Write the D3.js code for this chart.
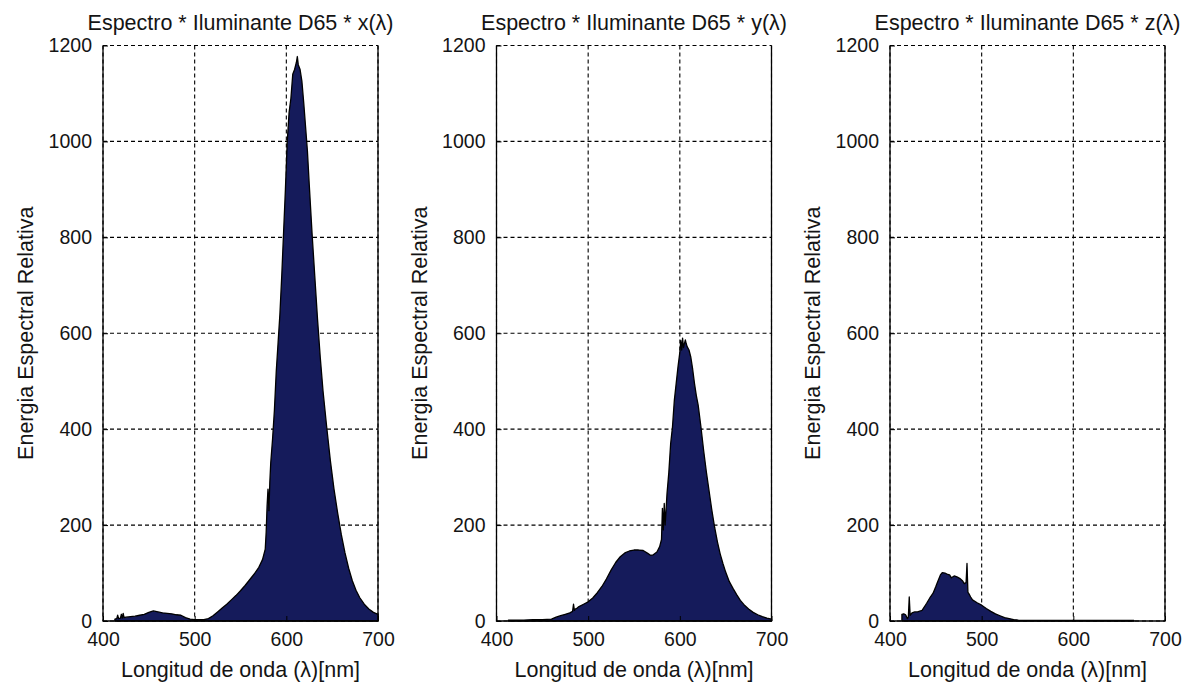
<!DOCTYPE html>
<html>
<head>
<meta charset="utf-8">
<script src="https://cdn.jsdelivr.net/npm/d3@7"></script>
<style>
  html, body { margin: 0; padding: 0; background: #fff; }
  svg text { font-family: "Liberation Sans", Arial, sans-serif; fill: #141414; }
</style>
</head>
<body>
<svg id="chart" width="1194" height="685"></svg>
<script>
// Spectrum * D65 * colour-matching function, one panel per tristimulus channel
const panelTitles = [
  "Espectro * Iluminante D65 * x(\u03bb)",
  "Espectro * Iluminante D65 * y(\u03bb)",
  "Espectro * Iluminante D65 * z(\u03bb)"
];
const xAxisLabel = "Longitud de onda (\u03bb)[nm]";
const yAxisLabel = "Energia Espectral Relativa";
const xTicks = [400, 500, 600, 700];
const yTicks = [0, 200, 400, 600, 800, 1000, 1200];

// x(λ) channel
const lambdaX = [413,415,416,417,419,420,421,422,423,425,430,435,440,445,450,455,460,465,470,475,480,485,490,495,500,505,510,515,520,525,530,535,540,545,550,555,560,565,570,574,577,578,579,580,581,582,583,585,587,589,591,593,595,597,599,601,603,605,607,609,611,612,613,615,617,619,621,623,625,628,631,634,637,640,644,648,652,656,660,664,668,672,676,680,685,690,695,700];
const energyX = [4,5,12,5,6,14,6,16,7,8,9,10,12,14,18,21,19,17,16,15,13,12,7,4,3,3,3,5,11,19,27,35,44,53,63,74,86,98,112,128,150,185,240,275,230,290,330,380,440,520,580,640,720,810,900,1000,1060,1090,1140,1150,1165,1177,1160,1150,1125,1080,1030,980,910,810,720,630,550,480,405,335,275,225,180,142,110,84,64,49,35,25,18,14];

// y(λ) channel
const lambdaY = [413,420,430,440,450,460,465,470,475,480,483,484,485,486,488,490,495,500,505,510,515,520,525,530,535,540,545,550,555,560,565,568,571,575,578,580,581,582,583,584,586,588,590,592,594,596,598,600,601,602,603,604,606,607,608,610,612,614,616,618,620,623,626,629,632,635,638,641,644,647,650,654,658,662,666,670,675,680,685,690,695,700];
const energyY = [2,2,2,3,3,4,8,11,14,17,20,35,22,25,27,30,35,40,48,59,72,88,106,122,134,142,146,148,148,147,141,137,138,144,155,170,235,190,245,200,265,310,370,405,460,495,530,560,585,565,590,570,586,578,572,565,550,525,495,470,450,405,355,310,270,230,195,165,140,120,102,82,68,55,43,34,25,18,13,9,6,4];

// z(λ) channel
const lambdaZ = [413,415,417,419,420,421,422,424,427,430,435,440,444,447,450,452,455,457,460,463,465,467,470,473,476,479,481,483,484,485,486,488,490,495,500,505,510,515,520,525,530,535,540,550,560,580,600,620,640,660,666];
const energyZ = [14,15,13,5,8,50,12,17,19,19,22,37,50,58,72,82,96,101,100,97,96,90,94,92,89,84,78,80,120,60,57,50,44,38,33,26,20,15,11,7,5,3,2,1.5,1,1,1,1,1,1,1];

const channels = [
  { title: panelTitles[0], lambda: lambdaX, energy: energyX },
  { title: panelTitles[1], lambda: lambdaY, energy: energyY },
  { title: panelTitles[2], lambda: lambdaZ, energy: energyZ }
];

const panelLefts = [103, 496.5, 890];
const plotTop = 45.5, plotBottom = 621, plotWidth = 275;
const plotHeight = plotBottom - plotTop;
const fillColor = "#151b5b";

const svg = d3.select("#chart");

channels.forEach((ch, i) => {
  const g = svg.append("g").attr("transform", `translate(${panelLefts[i]},${plotTop})`);

  const x = d3.scaleLinear().domain([400, 700]).range([0, plotWidth]);
  const y = d3.scaleLinear().domain([0, 1200]).range([plotHeight, 0]);

  // dashed grid
  g.append("g").selectAll("line").data(xTicks).join("line")
    .attr("x1", d => x(d)).attr("x2", d => x(d))
    .attr("y1", 0).attr("y2", plotHeight)
    .attr("stroke", "#000").attr("stroke-width", 1.1)
    .attr("stroke-dasharray", "4,3");
  g.append("g").selectAll("line").data(yTicks).join("line")
    .attr("x1", 0).attr("x2", plotWidth)
    .attr("y1", d => y(d)).attr("y2", d => y(d))
    .attr("stroke", "#000").attr("stroke-width", 1.1)
    .attr("stroke-dasharray", "4,3");

  // filled spectrum
  const pts = ch.lambda.map((l, k) => [l, ch.energy[k]]);
  const area = d3.area()
    .x(d => x(d[0]))
    .y0(y(0))
    .y1(d => y(d[1]));
  g.append("path")
    .datum(pts)
    .attr("d", area)
    .attr("fill", fillColor)
    .attr("stroke", "#000")
    .attr("stroke-width", 1.3)
    .attr("stroke-linejoin", "round");

  // axes with inward ticks
  const xAxis = d3.axisBottom(x).tickValues(xTicks).tickSize(-5).tickPadding(11).tickFormat(d3.format("d"));
  const yAxis = d3.axisLeft(y).tickValues(yTicks).tickSize(-5).tickPadding(11).tickFormat(d3.format("d"));

  const gx = g.append("g").attr("transform", `translate(0,${plotHeight})`).call(xAxis);
  const gy = g.append("g").call(yAxis);
  [gx, gy].forEach(a => {
    a.select(".domain").remove();
    a.selectAll(".tick line").attr("stroke", "#000");
    a.selectAll("text").attr("font-size", 19.5).attr("fill", "#141414")
      .attr("font-family", "'Liberation Sans', Arial, sans-serif");
  });

  // frame: left, right, bottom solid
  g.append("path")
    .attr("d", `M0,0V${plotHeight}H${plotWidth}V0`)
    .attr("fill", "none").attr("stroke", "#000").attr("stroke-width", 1.3);

  // title
  g.append("text")
    .attr("x", plotWidth / 2).attr("y", -16)
    .attr("text-anchor", "middle")
    .attr("font-size", 21.5)
    .text(ch.title);

  // x label
  g.append("text")
    .attr("x", plotWidth / 2).attr("y", plotHeight + 55.5)
    .attr("text-anchor", "middle")
    .attr("font-size", 21.5)
    .text(xAxisLabel);

  // y label
  g.append("text")
    .attr("transform", `translate(-70,${plotHeight / 2}) rotate(-90)`)
    .attr("text-anchor", "middle")
    .attr("font-size", 21.5)
    .text(yAxisLabel);
});
</script>
</body>
</html>
